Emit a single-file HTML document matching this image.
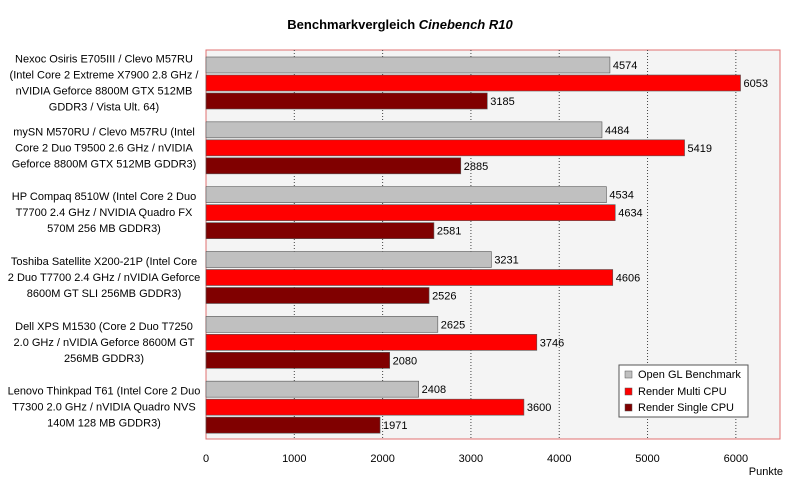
<!DOCTYPE html>
<html><head><meta charset="utf-8"><style>
body{margin:0;background:#fff;font-family:"Liberation Sans",sans-serif}
svg text{font-family:"Liberation Sans",sans-serif}
</style></head><body>
<svg id="c" width="800" height="491" xmlns="http://www.w3.org/2000/svg">
<text x="400" y="29" text-anchor="middle" font-size="13" font-weight="bold">Benchmarkvergleich <tspan font-style="italic">Cinebench R10</tspan></text>
<rect x="206" y="50" width="574" height="389" fill="#f4f4f4" stroke="#e07070" stroke-width="1"/>
<g id="grid"></g><g id="bars"></g><g id="labels"></g><g id="ticks"></g>
<text x="783" y="475" text-anchor="end" font-size="11">Punkte</text>
<g>
<rect x="619" y="365" width="129" height="52" fill="#fff" stroke="#555"/>
<g><rect x="625" y="371" width="7" height="7" fill="#c0c0c0" stroke="#555" stroke-width="0.5"/><text x="638" y="378" font-size="11">Open GL Benchmark</text></g>
<g><rect x="625" y="388" width="7" height="7" fill="#ff0000" stroke="#555" stroke-width="0.5"/><text x="638" y="395" font-size="11">Render Multi CPU</text></g>
<g><rect x="625" y="404" width="7" height="7" fill="#800000" stroke="#555" stroke-width="0.5"/><text x="638" y="411" font-size="11">Render Single CPU</text></g>
</g>
</svg>
<script>
const categories=[
["Nexoc Osiris E705III / Clevo M57RU","(Intel Core 2 Extreme X7900 2.8 GHz /","nVIDIA Geforce 8800M GTX 512MB","GDDR3 / Vista Ult. 64)"],
["mySN M570RU / Clevo M57RU (Intel","Core 2 Duo T9500 2.6 GHz / nVIDIA","Geforce 8800M GTX 512MB GDDR3)"],
["HP Compaq 8510W (Intel Core 2 Duo","T7700 2.4 GHz / NVIDIA Quadro FX","570M 256 MB GDDR3)"],
["Toshiba Satellite X200-21P (Intel Core","2 Duo T7700 2.4 GHz / nVIDIA Geforce","8600M GT SLI 256MB GDDR3)"],
["Dell XPS M1530 (Core 2 Duo T7250","2.0 GHz / nVIDIA Geforce 8600M GT","256MB GDDR3)"],
["Lenovo Thinkpad T61 (Intel Core 2 Duo","T7300 2.0 GHz / nVIDIA Quadro NVS","140M 128 MB GDDR3)"]];
const openGL=[4574,4484,4534,3231,2625,2408];
const multiCPU=[6053,5419,4634,4606,3746,3600];
const singleCPU=[3185,2885,2581,2526,2080,1971];
const tickValues=[0,1000,2000,3000,4000,5000,6000];
const NS="http://www.w3.org/2000/svg";
const X0=206,X1=780,Y0=50,Y1=439,MAX=6500;
const xs=v=>X0+v/MAX*(X1-X0);
const gh=(Y1-Y0)/categories.length;
function mk(t,a,p){const e=document.createElementNS(NS,t);for(const k in a)e.setAttribute(k,a[k]);p.appendChild(e);return e;}
const grid=document.getElementById('grid'),bars=document.getElementById('bars'),labels=document.getElementById('labels'),ticks=document.getElementById('ticks');
tickValues.forEach(v=>{
  if(v>0){const l=mk('line',{x1:xs(v),x2:xs(v),y1:Y0,y2:Y1,stroke:'#444','stroke-dasharray':'1,2','stroke-width':1},grid);
  
  }
  const t=mk('text',{x:xs(v),y:462,'text-anchor':'middle','font-size':11},ticks);t.textContent=v;
  
  
});
const series=[[openGL,'#c0c0c0','opengl'],[multiCPU,'#ff0000','multi'],[singleCPU,'#800000','single']];
categories.forEach((c,i)=>{
  const gy=Y0+i*gh;
  series.forEach((s,j)=>{
    const y=gy+7+j*18,v=s[0][i];
    const r=mk('rect',{x:X0,y:y,width:xs(v)-X0,height:16,fill:s[1],stroke:'#555','stroke-width':0.6},bars);
    
    
    const t=mk('text',{x:xs(v)+3,y:y+12,'font-size':11},bars);t.textContent=v;
    
    
  });
  const mid=gy+gh/2,n=c.length;
  const g=mk('text',{'text-anchor':'middle','font-size':11},labels);
  
  
  c.forEach((line,k)=>{const ts=mk('tspan',{x:104,y:mid-(n-1)*8+k*16+4},g);ts.textContent=line;});
});
</script>
</body></html>
